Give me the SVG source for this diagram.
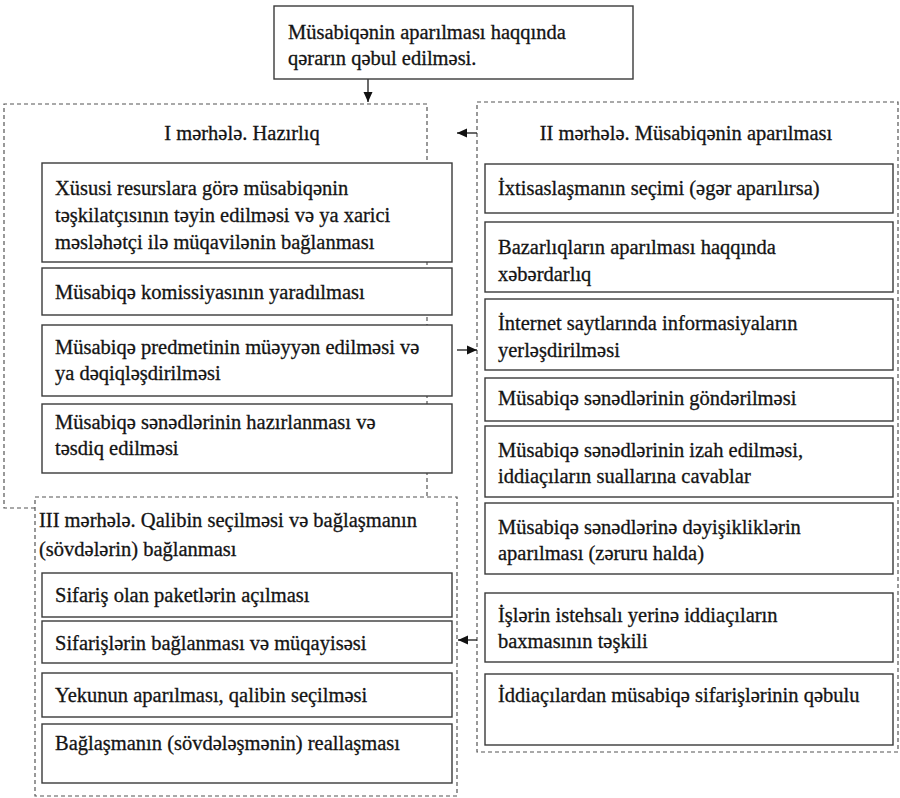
<svg xmlns="http://www.w3.org/2000/svg" width="900" height="798" viewBox="0 0 900 798">
<style>
text{font-family:"Liberation Serif","Times New Roman",serif;font-size:20.5px;fill:#141414;stroke:#141414;stroke-width:0.3}
.box{fill:#fff;stroke:#3a3a3a;stroke-width:1.4}
.dash{fill:none;stroke:#555;stroke-width:1.2;stroke-dasharray:4 3}
.dashw{fill:#fff;stroke:#555;stroke-width:1.2;stroke-dasharray:4 3}
.con{fill:none;stroke:#1a1a1a;stroke-width:1.3}
</style>
<defs>
<marker id="ah" markerWidth="10" markerHeight="10" refX="10" refY="5" orient="auto" markerUnits="userSpaceOnUse">
<path d="M0,0.5 L10,5 L0,9.5 Z" fill="#111"/>
</marker>
</defs>
<rect width="900" height="798" fill="#fff"/>

<g id="stage1">
<path class="dash" d="M35,508 H4 V104 H427 V497"/>
<text x="242" y="140" text-anchor="middle">I mərhələ. Hazırlıq</text>
</g>
<g id="stage2">
<rect class="dash" x="477" y="102" width="421" height="650"/>
<text x="686" y="140" text-anchor="middle">II mərhələ. Müsabiqənin aparılması</text>
</g>
<g id="stage3">
<rect class="dashw" x="35" y="497" width="422" height="299"/>
<text x="39" y="527">III mərhələ. Qalibin seçilməsi və bağlaşmanın</text>
<text x="39" y="556">(sövdələrin) bağlanması</text>
</g>

<g id="connectors">
<line class="con" x1="368" y1="79" x2="368" y2="102" marker-end="url(#ah)"/>
<line class="con" x1="477" y1="133" x2="457" y2="133" marker-end="url(#ah)"/>
<line class="con" x1="457" y1="350" x2="477" y2="350" marker-end="url(#ah)"/>
<line class="con" x1="477" y1="640" x2="458" y2="640" marker-end="url(#ah)"/>
</g>

<g id="top">
<rect class="box" x="274" y="6" width="359" height="73"/>
<text x="288" y="39">Müsabiqənin aparılması haqqında</text>
<text x="288" y="65">qərarın qəbul edilməsi.</text>
</g>

<g id="a1">
<rect class="box" x="42" y="163" width="410" height="99"/>
<text x="55" y="195">Xüsusi resurslara görə müsabiqənin</text>
<text x="55" y="222">təşkilatçısının təyin edilməsi və ya xarici</text>
<text x="55" y="249">məsləhətçi ilə müqavilənin bağlanması</text>
</g>
<g id="a2">
<rect class="box" x="42" y="268" width="410" height="47"/>
<text x="55" y="299">Müsabiqə komissiyasının yaradılması</text>
</g>
<g id="a3">
<rect class="box" x="42" y="325" width="410" height="71"/>
<text x="55" y="354">Müsabiqə predmetinin müəyyən edilməsi və</text>
<text x="55" y="380">ya dəqiqləşdirilməsi</text>
</g>
<g id="a4">
<rect class="box" x="42" y="404" width="410" height="69"/>
<text x="55" y="429">Müsabiqə sənədlərinin hazırlanması və</text>
<text x="55" y="455">təsdiq edilməsi</text>
</g>

<g id="b1">
<rect class="box" x="485" y="164" width="408" height="49"/>
<text x="498" y="195">İxtisaslaşmanın seçimi (əgər aparılırsa)</text>
</g>
<g id="b2">
<rect class="box" x="485" y="222" width="408" height="70"/>
<text x="498" y="254">Bazarlıqların aparılması haqqında</text>
<text x="498" y="281">xəbərdarlıq</text>
</g>
<g id="b3">
<rect class="box" x="485" y="299" width="408" height="71"/>
<text x="498" y="330">İnternet saytlarında informasiyaların</text>
<text x="498" y="357">yerləşdirilməsi</text>
</g>
<g id="b4">
<rect class="box" x="485" y="378" width="408" height="43"/>
<text x="498" y="405">Müsabiqə sənədlərinin göndərilməsi</text>
</g>
<g id="b5">
<rect class="box" x="485" y="426" width="408" height="71"/>
<text x="498" y="457">Müsabiqə sənədlərinin izah edilməsi,</text>
<text x="498" y="483">iddiaçıların suallarına cavablar</text>
</g>
<g id="b6">
<rect class="box" x="485" y="503" width="408" height="71"/>
<text x="498" y="534">Müsabiqə sənədlərinə dəyişikliklərin</text>
<text x="498" y="560">aparılması (zəruru halda)</text>
</g>
<g id="b7">
<rect class="box" x="485" y="593" width="408" height="69"/>
<text x="498" y="622">İşlərin istehsalı yerinə iddiaçıların</text>
<text x="498" y="648">baxmasının təşkili</text>
</g>
<g id="b8">
<rect class="box" x="485" y="674" width="408" height="71"/>
<text x="498" y="702">İddiaçılardan müsabiqə sifarişlərinin qəbulu</text>
</g>

<g id="c1">
<rect class="box" x="42" y="573" width="410" height="44"/>
<text x="55" y="602">Sifariş olan paketlərin açılması</text>
</g>
<g id="c2">
<rect class="box" x="42" y="621" width="410" height="42"/>
<text x="55" y="650">Sifarişlərin bağlanması və müqayisəsi</text>
</g>
<g id="c3">
<rect class="box" x="42" y="673" width="410" height="44"/>
<text x="55" y="702">Yekunun aparılması, qalibin seçilməsi</text>
</g>
<g id="c4">
<rect class="box" x="42" y="724" width="410" height="59"/>
<text x="55" y="750">Bağlaşmanın (sövdələşmənin) reallaşması</text>
</g>
</svg>
